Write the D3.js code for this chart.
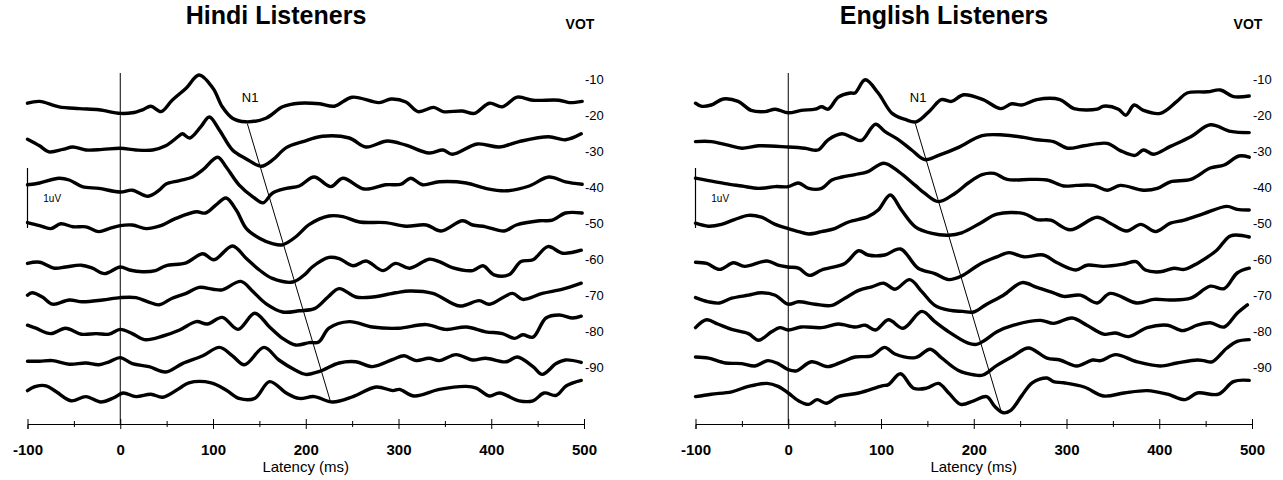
<!DOCTYPE html>
<html>
<head>
<meta charset="utf-8">
<script src="https://cdn.jsdelivr.net/npm/d3@7"></script>
<style>
body { margin: 0; background: #fff; }
text { font-family: "Liberation Sans", Arial, sans-serif; fill: #000; }
</style>
</head>
<body>
<svg id="chart" width="1283" height="480"></svg>
<script>
// ERP traces, [latency ms, amplitude uV], one per VOT step
const hindi10 = [[-100,0.03],[-87,0.06],[-66,-0.03],[-44,-0.06],[-23,-0.08],[0,-0.14],[13,-0.13],[24,-0.08],[33,-0.02],[44,-0.11],[56,0.08],[71,0.28],[85,0.5],[100,0.28],[110,-0.03],[121,-0.22],[135,-0.28],[157,-0.22],[175,-0.03],[193,0.03],[215,0.02],[231,-0.02],[250,0.13],[279,0.04],[292,0.1],[308,0.05],[321,-0.11],[338,-0.04],[348,-0.11],[369,-0.1],[382,-0.14],[398,0.03],[412,-0.03],[428,0.13],[445,0.08],[473,0.08],[484,0.04],[498,0.06]];
const hindi20 = [[-100,0.03],[-87,-0.08],[-77,-0.18],[-62,-0.14],[-51,-0.1],[-37,-0.15],[-19,-0.14],[0,-0.12],[17,-0.15],[35,-0.15],[49,-0.08],[63,0.08],[67,0.12],[75,0.05],[87,0.24],[96,0.4],[107,0.18],[121,-0.15],[135,-0.29],[152,-0.42],[164,-0.32],[179,-0.11],[197,-0.01],[218,0.08],[247,0.05],[265,-0.1],[288,0.0],[308,-0.07],[333,-0.2],[348,-0.15],[358,-0.22],[385,-0.05],[409,-0.1],[430,-0.01],[462,0.07],[480,0.02],[497,0.12]];
const hindi30 = [[-100,-0.13],[-87,-0.1],[-66,-0.02],[-55,-0.05],[-41,-0.16],[-23,-0.19],[0,-0.25],[13,-0.22],[30,-0.32],[42,-0.22],[49,-0.12],[64,-0.06],[78,0.0],[89,0.12],[105,0.33],[114,0.17],[128,-0.13],[143,-0.33],[154,-0.43],[164,-0.27],[179,-0.19],[193,-0.15],[209,0.0],[227,-0.16],[240,-0.02],[263,-0.2],[286,-0.13],[303,-0.12],[313,-0.02],[326,-0.13],[344,-0.08],[373,-0.1],[394,-0.19],[416,-0.23],[441,-0.15],[462,0.0],[480,-0.08],[498,-0.12]];
const hindi40 = [[-100,-0.16],[-87,-0.21],[-75,-0.26],[-64,-0.18],[-51,-0.23],[-37,-0.23],[-23,-0.31],[-12,-0.26],[0,-0.21],[13,-0.2],[28,-0.26],[42,-0.22],[60,-0.09],[82,0.02],[92,0.0],[103,0.13],[114,0.25],[125,0.05],[136,-0.26],[150,-0.42],[164,-0.51],[175,-0.53],[189,-0.4],[204,-0.19],[225,-0.05],[240,-0.06],[258,-0.15],[286,-0.16],[308,-0.22],[330,-0.2],[346,-0.3],[369,-0.13],[380,-0.2],[394,-0.23],[414,-0.3],[427,-0.2],[452,-0.13],[466,-0.12],[480,0.0],[498,0.0]];
const hindi50 = [[-100,-0.24],[-87,-0.22],[-71,-0.32],[-59,-0.3],[-42,-0.27],[-30,-0.32],[-17,-0.41],[0,-0.3],[10,-0.35],[24,-0.38],[38,-0.36],[49,-0.28],[71,-0.23],[89,-0.08],[101,-0.18],[121,0.05],[136,-0.16],[150,-0.35],[164,-0.49],[186,-0.55],[200,-0.41],[207,-0.3],[225,-0.14],[236,-0.16],[251,-0.28],[265,-0.2],[283,-0.36],[297,-0.24],[312,-0.32],[333,-0.17],[344,-0.21],[358,-0.31],[380,-0.36],[391,-0.28],[403,-0.43],[419,-0.43],[432,-0.21],[445,-0.18],[461,0.04],[477,-0.07],[497,-0.02]];
const hindi60 = [[-100,-0.17],[-95,-0.13],[-84,-0.2],[-73,-0.32],[-55,-0.25],[-41,-0.28],[-19,-0.25],[0,-0.21],[17,-0.21],[30,-0.28],[42,-0.33],[56,-0.22],[71,-0.14],[85,-0.04],[100,-0.07],[110,-0.08],[130,0.06],[143,-0.11],[157,-0.31],[175,-0.45],[193,-0.43],[210,-0.39],[224,-0.2],[236,-0.06],[254,-0.2],[272,-0.2],[297,-0.13],[312,-0.1],[337,-0.14],[366,-0.35],[387,-0.26],[398,-0.32],[423,-0.14],[434,-0.24],[455,-0.14],[477,-0.07],[497,0.03]];
const hindi70 = [[-100,-0.07],[-91,-0.12],[-75,-0.21],[-59,-0.12],[-42,-0.22],[-26,-0.21],[-12,-0.22],[0,-0.14],[13,-0.21],[26,-0.31],[46,-0.25],[64,-0.15],[82,-0.01],[94,-0.05],[110,0.06],[127,-0.14],[145,0.13],[161,-0.1],[175,-0.29],[189,-0.4],[204,-0.36],[214,-0.35],[225,-0.12],[247,-0.01],[272,-0.1],[300,-0.12],[330,-0.06],[351,-0.14],[373,-0.1],[394,-0.18],[412,-0.21],[425,-0.29],[434,-0.23],[445,-0.27],[459,0.05],[473,0.1],[488,0.05],[497,0.08]];
const hindi80 = [[-100,-0.07],[-87,-0.07],[-73,-0.06],[-55,-0.12],[-37,-0.1],[-23,-0.13],[-12,-0.08],[0,-0.01],[13,-0.11],[31,-0.16],[49,-0.25],[67,-0.11],[89,0.02],[107,0.16],[121,0.02],[134,-0.13],[155,0.16],[171,-0.05],[189,-0.22],[200,-0.29],[215,-0.24],[236,-0.1],[254,-0.08],[272,-0.16],[294,-0.04],[306,0.02],[319,-0.06],[333,-0.02],[344,-0.06],[362,0.04],[380,-0.05],[394,-0.02],[416,-0.08],[428,0.0],[445,-0.16],[455,-0.29],[470,-0.11],[480,-0.05],[497,-0.09]];
const hindi90 = [[-100,0.04],[-91,0.11],[-80,0.12],[-69,0.02],[-53,-0.13],[-37,-0.06],[-21,-0.15],[-7,-0.08],[3,0.0],[17,-0.06],[33,-0.02],[46,-0.07],[64,0.08],[74,0.17],[98,0.17],[114,0.05],[128,-0.09],[145,-0.09],[161,0.19],[179,0.0],[193,-0.09],[209,-0.06],[229,-0.15],[251,-0.06],[276,0.1],[294,0.04],[301,0.06],[317,-0.05],[344,0.06],[373,0.11],[384,0.08],[398,-0.05],[409,0.0],[430,-0.13],[445,-0.13],[457,0.0],[470,-0.04],[481,0.12],[497,0.21]];

const english10 = [[-100,0.03],[-94,-0.02],[-83,0.0],[-70,0.1],[-54,0.06],[-40,-0.09],[-25,-0.11],[-14,-0.07],[0,-0.13],[14,-0.09],[29,-0.07],[36,-0.03],[43,-0.07],[54,0.13],[67,0.2],[72,0.2],[83,0.42],[97,0.2],[112,-0.14],[126,-0.24],[138,-0.28],[153,-0.09],[165,0.09],[176,0.06],[189,0.17],[210,0.09],[229,-0.06],[241,0.02],[252,0.0],[268,0.09],[293,0.09],[308,-0.06],[333,-0.07],[340,-0.02],[356,-0.07],[364,-0.17],[373,0.0],[383,-0.09],[401,-0.14],[419,0.06],[430,0.2],[452,0.22],[466,0.25],[480,0.14],[497,0.15]];
const english20 = [[-100,-0.01],[-83,-0.01],[-65,-0.07],[-50,-0.12],[-32,-0.08],[0,-0.1],[18,-0.12],[32,-0.15],[43,0.02],[58,0.12],[70,0.05],[79,0.01],[94,0.28],[104,0.16],[119,0.02],[133,-0.15],[147,-0.31],[162,-0.24],[183,-0.11],[209,0.09],[232,0.1],[254,0.06],[268,0.02],[286,-0.01],[301,-0.12],[319,-0.08],[344,-0.04],[358,-0.16],[374,-0.24],[383,-0.15],[394,-0.22],[412,-0.09],[434,0.07],[455,0.27],[477,0.16],[497,0.14]];
const english30 = [[-100,-0.02],[-86,-0.06],[-68,-0.11],[-50,-0.15],[-32,-0.19],[-14,-0.16],[0,-0.16],[11,-0.1],[22,-0.19],[36,-0.19],[47,-0.05],[58,0.0],[72,0.04],[86,0.09],[103,0.23],[119,0.09],[137,-0.14],[147,-0.27],[162,-0.41],[180,-0.27],[194,-0.1],[209,0.04],[222,0.06],[236,-0.04],[261,-0.04],[279,-0.05],[297,-0.15],[311,-0.14],[329,-0.14],[344,-0.22],[358,-0.14],[383,-0.22],[398,-0.19],[412,-0.08],[434,-0.04],[455,0.15],[470,0.2],[486,0.35],[497,0.33]];
const english40 = [[-100,-0.17],[-86,-0.22],[-72,-0.19],[-58,-0.11],[-43,-0.04],[-29,-0.07],[-14,-0.19],[0,-0.26],[11,-0.31],[22,-0.35],[36,-0.31],[50,-0.26],[65,-0.15],[86,-0.06],[97,0.05],[110,0.3],[122,0.05],[137,-0.23],[155,-0.34],[173,-0.37],[187,-0.33],[207,-0.17],[225,-0.02],[254,-0.01],[268,-0.11],[283,-0.12],[304,-0.28],[333,-0.07],[347,-0.17],[365,-0.3],[380,-0.19],[396,-0.31],[412,-0.17],[427,-0.12],[448,-0.01],[473,0.11],[484,0.06],[497,0.05]];
const english50 = [[-100,-0.22],[-88,-0.24],[-74,-0.34],[-59,-0.23],[-47,-0.29],[-23,-0.2],[-11,-0.27],[0,-0.3],[11,-0.32],[23,-0.44],[36,-0.35],[61,-0.24],[76,-0.03],[86,-0.1],[104,-0.1],[121,0.0],[140,-0.32],[158,-0.41],[173,-0.51],[187,-0.45],[207,-0.25],[225,-0.13],[238,-0.06],[254,-0.13],[275,-0.1],[290,-0.23],[310,-0.35],[322,-0.27],[340,-0.29],[362,-0.25],[375,-0.21],[385,-0.35],[401,-0.38],[416,-0.32],[427,-0.34],[441,-0.24],[462,-0.02],[477,0.22],[497,0.2]];
const english60 = [[-100,-0.21],[-86,-0.28],[-74,-0.3],[-61,-0.22],[-43,-0.17],[-29,-0.13],[-14,-0.17],[0,-0.32],[11,-0.28],[29,-0.32],[47,-0.34],[61,-0.22],[76,-0.09],[90,-0.03],[103,0.03],[115,-0.07],[131,0.09],[144,-0.11],[158,-0.34],[173,-0.42],[188,-0.44],[200,-0.45],[214,-0.32],[232,-0.17],[252,0.04],[268,-0.04],[286,-0.13],[297,-0.19],[315,-0.17],[333,-0.3],[347,-0.14],[376,-0.3],[394,-0.24],[412,-0.25],[434,-0.22],[455,-0.02],[470,-0.06],[484,0.2],[497,0.28]];
const english70 = [[-100,-0.11],[-88,0.02],[-76,-0.05],[-61,-0.14],[-43,-0.21],[-32,-0.32],[-18,-0.18],[-9,-0.11],[0,-0.15],[14,-0.1],[36,-0.11],[54,-0.05],[72,-0.1],[83,-0.07],[94,-0.15],[108,0.02],[124,-0.12],[144,0.16],[158,-0.01],[173,-0.18],[194,-0.37],[203,-0.39],[212,-0.32],[225,-0.18],[243,-0.07],[272,0.01],[286,-0.04],[306,0.05],[322,-0.07],[340,-0.22],[353,-0.2],[367,-0.26],[387,-0.11],[409,-0.07],[425,-0.16],[441,-0.07],[455,-0.03],[470,-0.1],[484,0.13],[495,0.27]];
const english80 = [[-100,0.0],[-86,-0.02],[-68,-0.1],[-50,-0.11],[-36,-0.15],[-22,-0.06],[-11,-0.11],[0,-0.21],[9,-0.23],[25,-0.08],[43,-0.16],[58,-0.08],[72,0.0],[90,0.02],[104,0.16],[115,0.05],[137,-0.01],[153,0.13],[165,-0.01],[183,-0.22],[201,-0.3],[210,-0.3],[225,-0.14],[243,0.02],[259,0.15],[279,-0.02],[293,-0.05],[311,-0.15],[328,-0.05],[337,-0.06],[353,0.04],[376,-0.08],[401,-0.15],[419,-0.1],[441,-0.05],[448,-0.06],[457,-0.08],[473,0.15],[484,0.26],[497,0.29]];
const english90 = [[-100,-0.06],[-83,-0.02],[-61,0.02],[-43,0.11],[-23,0.16],[-11,0.11],[0,0.0],[11,-0.13],[22,-0.19],[31,-0.11],[41,-0.17],[54,-0.06],[76,0.0],[101,0.12],[108,0.14],[121,0.32],[135,0.08],[149,0.08],[162,0.16],[173,0.0],[186,-0.19],[200,-0.13],[214,-0.06],[223,-0.23],[232,-0.33],[240,-0.29],[252,-0.04],[263,0.17],[279,0.25],[286,0.19],[297,0.17],[319,0.1],[340,-0.05],[362,0.0],[387,0.04],[409,-0.02],[428,-0.11],[441,0.0],[464,-0.02],[480,0.19],[497,0.21]];

const hindiTraces = [hindi10, hindi20, hindi30, hindi40, hindi50, hindi60, hindi70, hindi80, hindi90];
const englishTraces = [english10, english20, english30, english40, english50, english60, english70, english80, english90];

// N1 latency line: [latency, stacked uV] at top and bottom
const n1Hindi = [[137, -0.31], [227, -4.96]];
const n1English = [[137, -0.31], [230, -5.13]];

const votLabels = ["-10", "-20", "-30", "-40", "-50", "-60", "-70", "-80", "-90"];
const latencyTicks = [-100, 0, 100, 200, 300, 400, 500];
const minorTicks = [-50, 50, 150, 250, 350, 450];
const stackStep = 0.6;      // uV between stacked traces
const scaleBar = [-1.05, -2.05]; // 1 uV calibration bar

var svg = d3.select("#chart");
var plotWidth = 556.5;

var x = d3.scaleLinear().domain([-100, 500]).range([0, plotWidth]);
var y = d3.scaleLinear().domain([0, -5.3]).range([105, 423]);
var axisY = 424;

var panels = [
    { title: "Hindi Listeners", traces: hindiTraces, n1: n1Hindi, left: 27.5, titleX: 276 },
    { title: "English Listeners", traces: englishTraces, n1: n1English, left: 695.5, titleX: 944 }
];

panels.forEach(function (p) {
    var g = svg.append("g").attr("transform", "translate(" + p.left + ",0)");

    // title and VOT header
    svg.append("text")
        .attr("x", p.titleX).attr("y", 24)
        .attr("text-anchor", "middle")
        .style("font-size", "25px").style("font-weight", "bold")
        .text(p.title);
    g.append("text")
        .attr("x", x(500) - 4).attr("y", 29)
        .attr("text-anchor", "middle")
        .style("font-size", "14px").style("font-weight", "bold")
        .text("VOT");

    // stimulus onset line
    g.append("line")
        .attr("x1", x(0)).attr("x2", x(0))
        .attr("y1", 73).attr("y2", axisY)
        .attr("stroke", "black").attr("stroke-width", 1);

    // axis with major ticks crossing the line
    var axis = g.append("g")
        .attr("transform", "translate(0," + axisY + ")")
        .call(d3.axisBottom(x).tickValues(latencyTicks).tickSizeOuter(0).tickSize(5)
            .tickFormat(function (d) { return String(d); }));
    axis.select(".domain").attr("stroke", "black");
    axis.selectAll(".tick line").attr("y1", -5).attr("y2", 5);
    axis.selectAll(".tick text")
        .attr("y", 20).attr("dy", "0.71em")
        .style("font-size", "15px").style("font-weight", "bold")
        .style("font-family", "'Liberation Sans', Arial, sans-serif");
    var minor = g.append("g")
        .attr("transform", "translate(0," + axisY + ")")
        .call(d3.axisBottom(x).tickValues(minorTicks).tickSize(3).tickFormat(""));
    minor.select(".domain").remove();
    minor.selectAll(".tick line").attr("y1", -3).attr("y2", 3);

    g.append("text")
        .attr("x", x(200)).attr("y", 472)
        .attr("text-anchor", "middle")
        .style("font-size", "15px")
        .text("Latency (ms)");

    // calibration bar
    g.append("line")
        .attr("x1", x(-100)).attr("x2", x(-100))
        .attr("y1", y(scaleBar[0])).attr("y2", y(scaleBar[1]))
        .attr("stroke", "black").attr("stroke-width", 1.2);
    g.append("text")
        .attr("x", x(-83)).attr("y", y((scaleBar[0] + scaleBar[1]) / 2) + 4)
        .style("font-size", "10px")
        .text("1uV");

    // N1 line and label
    g.append("line")
        .attr("x1", x(p.n1[0][0])).attr("y1", y(p.n1[0][1]))
        .attr("x2", x(p.n1[1][0])).attr("y2", y(p.n1[1][1]))
        .attr("stroke", "black").attr("stroke-width", 1);
    g.append("text")
        .attr("x", x(140)).attr("y", y(0.05))
        .attr("text-anchor", "middle")
        .style("font-size", "13px")
        .text("N1");

    // stacked waveforms
    p.traces.forEach(function (tr, i) {
        var line = d3.line()
            .x(function (d) { return x(d[0]); })
            .y(function (d) { return y(d[1] - i * stackStep); })
            .curve(d3.curveCatmullRom.alpha(0.5));
        g.append("path")
            .datum(tr)
            .attr("d", line)
            .attr("fill", "none")
            .attr("stroke", "black")
            .attr("stroke-width", 3.4)
            .attr("stroke-linejoin", "round")
            .attr("stroke-linecap", "round");
    });

    // VOT step labels
    g.selectAll("text.vot")
        .data(votLabels)
        .enter()
        .append("text")
        .attr("class", "vot")
        .attr("x", x(500) + 1)
        .attr("y", function (d, i) { return y(0.42 - i * stackStep) + 4.5; })
        .style("font-size", "13px")
        .text(function (d) { return d; });
});
</script>
</body>
</html>
